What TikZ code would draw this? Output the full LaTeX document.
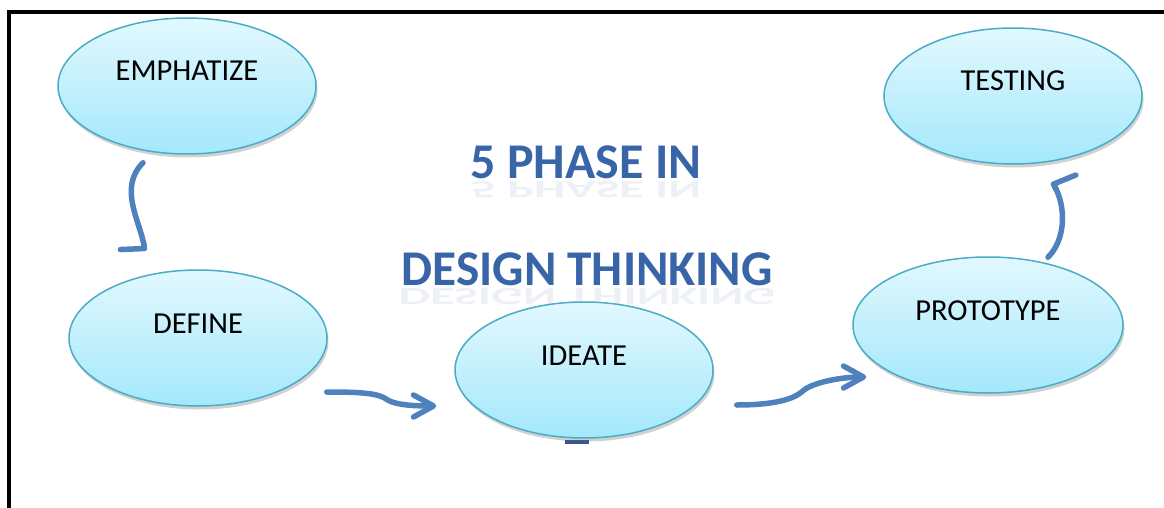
\documentclass[tikz,border=0pt]{standalone}
\usepackage{fontspec}
\setmainfont{Carlito}
\usetikzlibrary{shapes.geometric,arrows.meta,calc,shadows,backgrounds}
\definecolor{bubbletop}{RGB}{226,248,254}
\definecolor{bubblebottom}{RGB}{164,232,252}
\definecolor{bubbleline}{RGB}{75,172,198}
\definecolor{flowblue}{RGB}{79,129,189}
\definecolor{stubblue}{RGB}{52,88,140}
\definecolor{titleblue}{RGB}{56,100,168}
\tikzstyle{phase}=[ellipse, draw=bubbleline, line width=1.5pt, top color=bubbletop, bottom color=bubblebottom,
    minimum width=258pt, minimum height=136pt, inner sep=0pt, text height=20pt, text depth=30pt,
    font=\fontsize{30.5}{36}\selectfont,
    drop shadow={shadow xshift=1.5pt, shadow yshift=-3.5pt, opacity=0.3, fill=black!60}]
\tikzstyle{flow}=[draw=flowblue, line width=5.5pt, line cap=round,
    -{Straight Barb[round,length=20pt,width=22pt]}]
\tikzstyle{flowhook}=[draw=flowblue, line width=5.5pt, line cap=round,
    -{Straight Barb[round,harpoon,swap,length=3pt,width=48pt]}]
\tikzstyle{heading}=[text=titleblue, font=\fontsize{50}{60}\selectfont\bfseries, inner sep=0pt, anchor=base]
\tikzstyle{mirror}=[heading, yscale=-0.5, transform shape, opacity=0.09]

\begin{document}
\begin{tikzpicture}[x=1pt, y=-1pt]
            \useasboundingbox (0,0) rectangle (1164,508);
            \draw[line width=3.8pt] (9.2,508) -- (9.2,11.7) -- (1164,11.7);

            \node[mirror] (headrefl) at (586,181) {5 PHASE IN};
            \node[heading] (headtop) at (586,178) {5 PHASE IN};
            \node[mirror] (headlowrefl) at (587,288) {DESIGN THINKING};
            \node[heading, xscale=0.985, transform shape] (headlow) at (587,285) {DESIGN THINKING};

            \node[phase] (emp) at (187,86) {EMPHATIZE};
            \node[phase] (def) at (198,338) {DEFINE};
            \node[phase] (ide) at (584,370) {IDEATE};
            \node[phase, minimum width=270pt] (pro) at (988,325) {PROTOTYPE};
            \node[phase] (tes) at (1013,96) {TESTING};

            \begin{scope}[on background layer]
                \draw[stubblue, line width=3.5pt] ($(ide.south)+(-19,3)$) -- ($(ide.south)+(5,3)$);
            \end{scope}

            \draw[flowhook] ($(emp.south)+(-44,8)$) .. controls +(-25,25) and +(-5,-30) .. ($(def.north)+(-53,-18)$);
            \draw[flow] ($(def.east)+(-1,54)$) .. controls +(34,0) and +(-9,-7) .. ($(def.east)+(60,62)$)
                .. controls +(8,5) and +(-22,0) .. ($(ide.west)+(-18,36)$);
            \draw[flow] ($(ide.east)+(23,35)$) .. controls +(35,0) and +(-10,8) .. ($(ide.east)+(88,22)$)
                .. controls +(8,-9) and +(-26,0) .. ($(pro.west)+(14,52)$);
            \draw[flowhook] ($(pro.north)+(60,1)$) .. controls +(18,-18) and +(14,25) .. ($(tes.south)+(39,17)$);
        \end{tikzpicture}
\end{document}
